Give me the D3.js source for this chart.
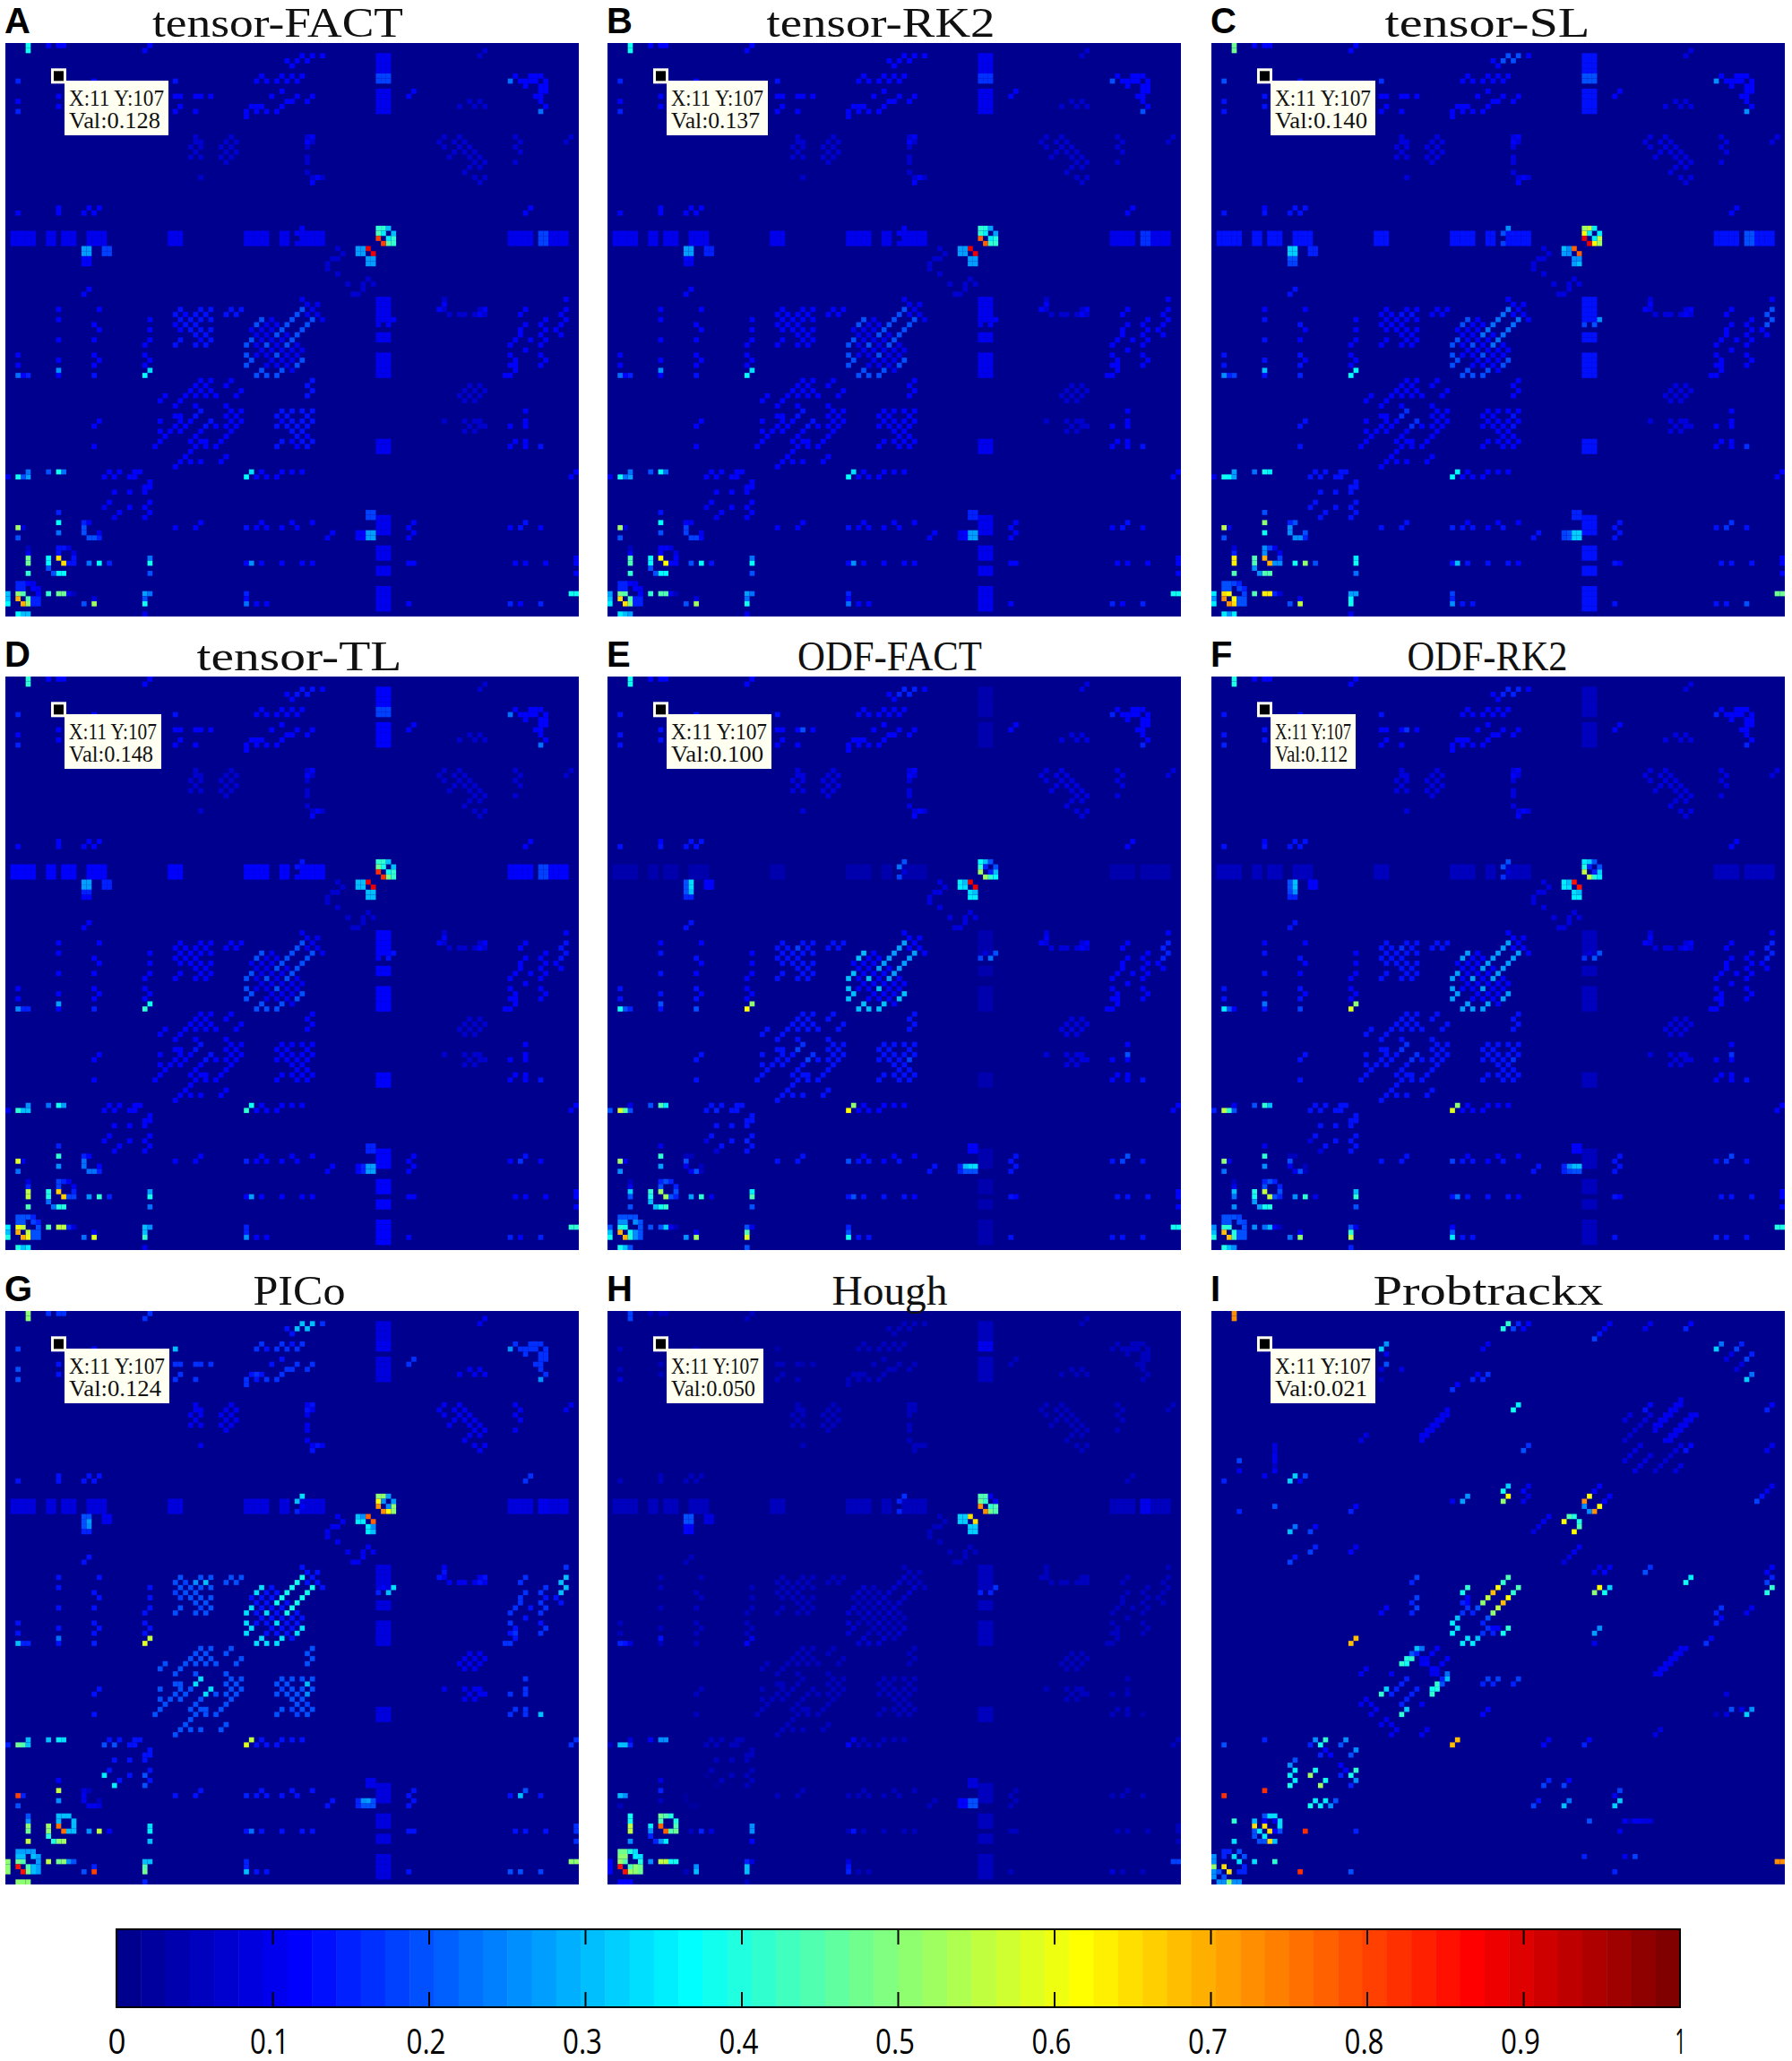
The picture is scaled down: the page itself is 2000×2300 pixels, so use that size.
<!DOCTYPE html>
<html><head><meta charset="utf-8">
<style>html,body{margin:0;padding:0;background:#fff}svg{display:block}</style>
<script src="https://d3js.org/d3.v7.min.js"></script></head><body>
<svg id="chart" width="2000" height="2300"></svg>
<script>
// Matrix is 113 x 113; cells are [column, row-from-top], 0-based, and mirrored about the anti-diagonal.
const letters=["A","B","C","D","E","F","G","H","I"];
const titles=["tensor-FACT","tensor-RK2","tensor-SL","tensor-TL","ODF-FACT","ODF-RK2","PICo","Hough","Probtrackx"];
const cursorVals=["0.128","0.137","0.140","0.148","0.100","0.112","0.124","0.050","0.021"];
const tickVals=[0,.1,.2,.3,.4,.5,.6,.7,.8,.9,1];

// Bright cells: [col,row,[A,B,C,D,E,F,G,H]]
const hotCells=[
[4,0,[.38,.38,.48,.42,.38,.4,.5,.18]],[4,1,[.38,.38,.48,.42,.38,.4,.5,.18]],
[2,95,[.52,.52,.55,.58,.52,.5,.78,.25]],[3,95,[.08,.08,.1,.1,.1,.1,.15,.25]],
[10,94,[.37,.37,.5,.42,.38,.38,.55,.15]],[10,96,[.22,.2,.35,.25,.28,.25,.25,.05]],[2,97,[.2,.2,.2,.22,.22,.22,.2,.05]],
[15,94,[.15,.12,.15,.15,.05,.05,.08,0]],[15,95,[.15,.15,.25,.18,.2,.18,.1,.03]],[15,96,[.15,.15,.25,.18,.1,.1,.1,.03]],
[16,97,[.2,.18,.25,.22,.05,.05,.05,0]],[17,97,[.2,.18,.25,.22,.2,.2,.05,0]],[18,96,[.1,.1,.2,.12,.05,.05,.05,0]],
[4,101,[.48,.45,.63,.55,.2,.22,.5,.38]],[4,102,[.48,.45,.63,.55,.12,.15,.45,.55]],[4,100,[.1,.1,.15,.15,.05,.05,.25,.38]],[4,99,[.05,.05,.08,.08,.03,.03,.2,.38]],[4,104,[.4,.38,.45,.42,.12,.15,.52,.25]],
[8,101,[.35,.36,.45,.4,.4,.4,.52,.25]],[8,102,[.35,.36,.45,.4,.38,.38,.5,.25]],[8,103,[.2,.2,.2,.22,.25,.25,.38,.06]],
[10,101,[.65,.62,.68,.66,.52,.55,.75,.78]],[11,102,[.62,.62,.7,.66,.52,.55,.75,.75]],
[9,104,[.2,.2,.25,.22,.3,.28,.4,.15]],[10,104,[.36,.37,.42,.38,.38,.38,.5,.25]],[11,104,[.36,.37,.42,.38,.42,.4,.5,.35]],
[10,99,[.12,.12,.2,.15,.15,.15,.3,.48]],[11,99,[.1,.1,.15,.12,.15,.15,.3,.45]],[12,99,[.05,.05,.1,.08,.12,.12,.3,.3]],[10,100,[.1,.1,.2,.15,.2,.2,.3,.45]],
[13,100,[.08,.08,.1,.1,.15,.15,.3,.4]],[13,101,[.14,.12,.18,.15,.2,.2,.3,.4]],[12,102,[.14,.12,.25,.18,.15,.15,.3,.4]],[13,102,[.14,.12,.25,.18,.15,.15,.3,.4]],
[16,102,[.22,.2,.38,.25,.28,.25,.25,.05]],[18,102,[.37,.37,.48,.42,.42,.42,.55,.12]],[20,102,[.15,.13,.2,.15,.1,.1,.12,.08]],
[28,101,[.22,.22,.33,.28,.3,.3,.33,.25]],[28,102,[.36,.36,.38,.38,.45,.42,.33,.25]],[28,104,[.2,.2,.22,.22,.2,.2,.3,.12]],
[0,108,[.27,.28,.35,.35,.1,.2,.4,.05]],[0,109,[.3,.28,.2,.3,.15,.2,.4,.05]],[0,110,[.35,.35,.35,.4,.38,.4,.4,.08]],
[2,108,[.5,.48,.65,.6,.35,.4,.48,.52]],[3,108,[.45,.45,.62,.55,.38,.4,.4,.45]],[2,109,[.7,.65,.72,.7,.7,.68,.85,.85]],[3,110,[.68,.65,.72,.7,.7,.68,.85,.85]],
[4,109,[.4,.4,.5,.48,.35,.38,.45,.45]],[4,110,[.5,.45,.65,.55,.4,.42,.45,.5]],
[2,112,[.36,.35,.3,.38,.33,.35,.5,.12]],[3,112,[.3,.3,.25,.3,.3,.3,.5,.12]],[4,112,[.3,.28,.3,.32,.2,.25,.5,.12]],
[5,109,[.15,.15,.2,.2,.2,.2,.25,.48]],[5,110,[.15,.15,.2,.2,.2,.2,.25,.48]],[6,109,[.15,.15,.2,.2,.2,.2,.25,.48]],[6,110,[.15,.15,.2,.2,.2,.2,.25,.48]],
[2,106,[.12,.12,.18,.2,.2,.2,.28,.45]],[3,106,[.12,.12,.18,.2,.2,.2,.28,.45]],[4,106,[.12,.12,.18,.2,.2,.2,.28,.4]],[5,106,[.1,.1,.12,.15,.18,.18,.28,.3]],
[2,107,[.12,.12,.18,.18,.25,.2,.3,.5]],[3,107,[.12,.12,.18,.18,.25,.2,.3,.5]],[5,107,[.12,.12,.18,.18,.25,.2,.3,.35]],[6,107,[.1,.1,.15,.15,.2,.18,.28,.33]],
[8,108,[.42,.42,.45,.45,.2,.25,.55,.2]],[10,108,[.45,.42,.6,.5,.2,.22,.47,.45]],[11,108,[.45,.42,.6,.5,.32,.3,.47,.55]],[12,108,[.1,.08,.1,.1,.1,.1,.2,.38]],[13,108,[.05,.05,.06,.06,.06,.06,.1,.38]],
[17,110,[.52,.5,.55,.55,.5,.48,.8,.3]],[15,110,[.15,.15,.2,.18,.25,.2,.2,.05]],
[27,108,[.27,.27,.27,.3,.2,.2,.3,.05]],[28,108,[.22,.22,.27,.25,.1,.1,.28,.05]],[27,109,[.15,.18,.25,.2,.42,.4,.45,.08]],[27,110,[.38,.38,.38,.42,.55,.52,.48,.28]],
[47,110,[.2,.2,.25,.22,.38,.35,.3,.15]],[47,108,[.15,.15,.15,.15,.15,.12,.15,.05]],
[2,85,[.35,.35,.37,.4,.58,.55,.47,.3]],[3,85,[.2,.22,.37,.3,.45,.42,.3,.3]],[4,85,[.2,.2,.28,.25,.2,.2,.25,.15]],[4,84,[.22,.22,.28,.25,.08,.1,.3,.08]],[0,85,[.1,.1,.1,.1,.2,.15,.15,.05]],
[8,84,[.15,.15,.2,.18,.15,.15,.3,.1]],[10,84,[.38,.37,.38,.38,.42,.38,.35,.22]],[11,84,[.2,.2,.35,.25,.35,.3,.33,.22]],
[2,65,[.22,.22,.25,.25,.38,.35,.28,.13]],[3,65,[.12,.12,.15,.15,.2,.2,.15,.13]],[4,65,[.12,.12,.18,.15,.08,.1,.15,.08]],[10,64,[.25,.25,.3,.28,.2,.22,.22,.13]],[17,65,[.13,.13,.15,.15,.2,.18,.15,.05]],
[27,65,[.36,.36,.37,.42,.62,.58,.58,.12]],[28,64,[.33,.33,.37,.38,.5,.5,.55,.1]],
[73,36,[.3,.3,.4,.32,.36,.35,.38,.42]],[74,36,[.38,.38,.55,.4,.3,.32,.5,.38]],[75,36,[.3,.28,.3,.3,.1,.12,.12,.1]],
[73,37,[.45,.42,.62,.48,.42,.4,.62,.42]],[74,37,[.35,.35,.35,.38,.15,.15,.2,.38]],[76,37,[.25,.25,.35,.28,.2,.2,.28,.1]],
[73,38,[.8,.78,.88,.82,.52,.55,.72,.72]],[75,38,[.35,.33,.3,.35,.15,.15,.25,.42]],[76,38,[.42,.4,.52,.42,.3,.3,.38,.45]],
[74,39,[.78,.78,.88,.82,.52,.55,.72,.72]],[75,39,[.42,.42,.62,.45,.33,.3,.62,.48]],[76,39,[.42,.42,.52,.42,.33,.3,.5,.45]],
[71,40,[.88,.88,.78,.88,.88,.85,.78,.65]],[72,41,[.88,.88,.75,.88,.88,.85,.78,.65]],
[69,40,[.28,.28,.3,.3,.35,.35,.3,.32]],[70,40,[.25,.22,.2,.25,.3,.3,.25,.32]],[69,41,[.28,.28,.28,.3,.35,.35,.35,.32]],[70,41,[.22,.2,.15,.2,.3,.3,.1,.32]],
[71,42,[.28,.28,.25,.3,.33,.33,.35,.25]],[72,42,[.28,.28,.25,.3,.25,.25,.25,.25]],[71,43,[.28,.28,.28,.3,.33,.33,.35,.28]],[72,43,[.28,.28,.25,.3,.25,.25,.12,.28]],
[15,40,[.28,.28,.32,.28,.2,.2,.2,.2]],[16,40,[.28,.28,.32,.28,.33,.3,.2,.2]],[15,41,[.28,.28,.32,.28,.2,.2,.2,.2]],[16,41,[.28,.28,.32,.28,.33,.3,.28,.2]],
[15,42,[.12,.12,.2,.15,.2,.18,.2,.12]],[16,42,[.12,.12,.2,.15,.3,.25,.25,.12]],[15,43,[.12,.1,.18,.12,.15,.15,.15,.12]],[16,43,[.12,.1,.18,.12,.15,.15,.15,.12]],
[19,40,[.18,.15,.15,.15,.12,.12,.1,.08]],[20,40,[.18,.15,.15,.15,.12,.12,.1,.08]],[19,41,[.18,.15,.15,.15,.12,.12,.1,.08]],[20,41,[.18,.15,.15,.15,.12,.12,.1,.08]],
[99,7,[.22,.2,.25,.22,.12,.12,.25,.05]],[105,13,[.2,.2,.2,.2,.15,.15,.25,.05]],[2,7,[.15,.15,.2,.15,.1,.12,.18,.06]],[2,11,[.12,.12,.12,.12,.1,.12,.2,.06]],[2,13,[.15,.15,.13,.15,.12,.15,.2,.08]],
[33,7,[.1,.1,.15,.12,.1,.1,.2,.03]],[38,10,[.12,.12,.12,.12,.2,.16,.16,.04]],
[105,79,[.14,.14,.16,.14,.14,.14,.3,.04]],[101,95,[.14,.14,.16,.16,.18,.16,.3,.05]],[102,94,[.14,.14,.16,.14,.2,.18,.2,.05]],
[109,55,[.12,.12,.2,.14,.15,.15,.3,.05]],[110,54,[.12,.12,.2,.14,.15,.15,.3,.05]],[109,53,[.12,.12,.2,.14,.15,.15,.3,.05]],[110,52,[.12,.12,.2,.14,.15,.15,.3,.05]],
[75,55,[.12,.12,.2,.14,.22,.2,.3,.15]],[76,54,[.12,.12,.25,.14,.2,.2,.33,.16]],[73,55,[.1,.1,.18,.12,.18,.16,.15,.15]],[74,54,[.08,.08,.12,.1,.08,.08,.12,.06]],
[19,91,[.08,.08,.12,.1,.08,.08,.35,.03]],[21,93,[.1,.1,.13,.12,.08,.08,.28,.03]],[27,91,[.1,.1,.13,.12,.15,.14,.2,.03]],[27,93,[.1,.1,.13,.12,.12,.12,.2,.03]],
[37,73,[.13,.13,.16,.14,.18,.16,.33,.05]],[38,72,[.13,.13,.16,.14,.16,.16,.33,.05]],[40,74,[.12,.12,.15,.14,.16,.15,.28,.05]],[39,75,[.12,.12,.15,.14,.15,.15,.28,.05]],[59,73,[.12,.12,.13,.12,.12,.12,.3,.05]],[59,75,[.12,.12,.13,.12,.18,.16,.25,.06]]
];

// Recurring structures: positions, then one level per panel A-H.
const stripeCells=[[53,57],[54,56],[55,55],[56,54],[57,53],[58,52]];
const stripeLevels=[.2,.2,.22,.2,.28,.28,.38,.07];
const sideCells=[[47,59],[48,58],[47,61],[48,62],[47,63],[49,55],[50,54],[51,59],[53,61]];
const sideLevels=[.2,.2,.2,.2,.3,.28,.33,.07];
const checkCells=[[48,56],[49,57],[50,56],[51,57],[50,58],[49,59],[50,60],[49,61],[51,61],[52,60],[52,58],[53,59],[52,62],[51,63],[53,63],[55,57],[54,58],[55,59],[56,60],[56,58],[54,60],[55,61],[57,61],[58,60],[57,59],[56,62],[54,62],[59,53],[60,52],[59,51],[58,50],[61,51]];
const checkLevels=[.1,.1,.12,.1,.12,.12,.14,.05];
const leftCells=[[37,53],[38,52],[40,52],[40,54],[39,57],[40,56],[40,58],[39,59],[37,59],[33,59],[34,58],[33,53],[34,52],[36,54],[35,55],[37,55],[38,54],[39,53],[38,56],[37,57],[36,56],[34,54],[43,53],[44,52],[45,53],[46,52]];
const leftLevels=[.13,.12,.12,.12,.14,.14,.2,.05];
const lowerCells=[[37,67],[38,66],[37,69],[38,68],[40,66],[43,67],[44,66],[45,69],[46,68],[41,69],[35,69],[39,67],[36,68],[33,71],[31,69],[30,70],[34,73],[33,73],[34,74],[33,75],[35,75],[38,72],[37,73],[40,74],[39,75],[43,75],[44,74],[45,75],[46,72],[44,72],[43,71],[46,74],[45,73],[43,73],[37,77],[38,78],[37,79],[39,79],[38,76],[36,78],[35,81],[33,83],[36,82],[38,82],[43,77],[42,78],[44,76],[41,75],[32,76],[30,78],[31,77]];
const lowerLevels=[.12,.12,.12,.12,.13,.13,.2,.05];
const regionCells=[[53,73],[54,72],[55,73],[56,72],[58,72],[60,72],[53,75],[53,79],[54,78],[57,79],[59,79],[59,77],[59,67],[60,66],[59,69],[57,75],[55,75],[60,74],[58,74],[54,74],[56,78],[60,78]];
const regionLevels=[.12,.12,.12,.12,.13,.13,.18,.05];
const topCells=[[57,3],[58,2],[59,3],[60,2],[62,2],[47,13],[49,12],[51,13],[53,13],[54,12],[55,11],[56,11],[57,10],[59,11],[60,10],[49,7],[50,6],[53,7],[54,6],[55,7],[57,7],[58,6],[33,13],[34,12],[34,10],[33,10],[37,13],[37,10],[40,10],[100,6],[102,7],[103,6],[104,7],[105,6],[106,7],[106,8],[105,9],[104,10],[105,11],[106,12],[79,10],[80,9],[47,14],[27,1],[28,0],[10,0],[11,0],[8,0]];
const topLevels=[.12,.12,.12,.12,.12,.12,.17,.05];
const faintCells=[[37,18],[38,19],[44,18],[43,19],[45,19],[44,20],[43,21],[45,21],[44,22],[43,23],[37,19],[36,20],[38,20],[37,21],[36,22],[38,22],[42,20],[42,22],[59,18],[60,18],[59,20],[60,19],[59,22],[59,23],[88,19],[89,18],[90,19],[91,20],[92,21],[93,22],[92,23],[91,24],[90,25],[91,22],[90,21],[89,20],[88,21],[100,18],[101,19],[100,20],[101,21],[100,23],[110,19],[111,18],[62,26],[60,27],[61,26],[38,26],[94,26],[93,27],[92,26],[87,53],[86,52],[65,40],[66,41],[64,42],[63,43],[67,47],[68,49],[70,47],[71,46]];
const faintLevels=[.07,.07,.08,.07,.08,.08,.1,.05];
const patchCells=[[15,33],[16,32],[17,33],[18,32],[10,32],[2,33],[99,59],[100,58],[99,61],[100,62],[99,63],[99,65],[100,64],[105,59],[106,58],[105,61],[102,60],[103,58],[93,53],[94,52],[85,52],[86,51],[108,56],[109,57],[27,59],[28,58],[27,61],[28,62],[27,63],[28,56],[28,54],[17,63],[18,62],[17,61],[17,55],[18,52],[18,56],[17,58],[10,58],[10,52],[101,53],[102,52],[105,55],[106,56]];
const patchLevels=[.12,.12,.12,.12,.12,.12,.14,.05];
const rowCells=[[79,95],[80,94],[80,96],[79,97],[99,95],[105,95],[33,95],[37,95],[38,94],[47,95],[49,95],[51,95],[57,95],[47,102],[50,102],[54,102],[58,102],[79,102],[100,102],[102,102],[106,102],[49,110],[51,110],[99,110],[101,110],[105,110],[79,110],[19,85],[20,84],[21,85],[22,84],[25,85],[26,84],[28,87],[27,88],[21,88],[24,88],[22,92],[20,90],[28,92],[63,97],[64,96]];
const rowLevels=[.12,.12,.13,.12,.14,.14,.14,.06];
const bandCols=[73,74,75];
const bandBrightRows=[6,7];
const bandBrightLevels=[.18,.17,.2,.18,.04,.05,.1,.1];
const bandRows=[2,3,4,5,9,10,11,12,13,50,51,52,53,54,57,58,61,62,63,64,65,78,79,80,93,94,95,96,99,100,101,103,104,107,108,109,110,111];
const bandLevels=[.1,.1,.13,.12,.04,.05,.08,.05];

// Panel I is read on its own.
const probtrackxCells=[
[4,0,.72],[4,1,.72],[57,3,.36],[58,2,.38],[59,3,.18],[60,2,.15],[61,3,.12],[62,2,.12],[75,5,.18],[76,4,.14],[77,3,.1],[78,2,.1],[85,3,.1],[86,2,.1],[93,3,.15],[94,2,.12],
[99,7,.32],[100,6,.22],[103,7,.15],[104,6,.15],[105,9,.18],[106,8,.15],[101,9,.08],[102,8,.08],[103,11,.08],[104,10,.08],[105,13,.32],[106,12,.2],
[33,7,.32],[34,6,.25],[34,8,.1],[34,10,.2],[33,11,.08],[37,11,.08],[33,13,.06],[53,7,.1],[54,6,.1],[51,13,.15],[52,12,.12],[53,13,.15],[54,12,.17],[47,15,.17],[48,14,.12],
[59,19,.32],[60,18,.34],[85,19,.14],[86,18,.12],[41,25,.1],[42,24,.1],[43,23,.1],[44,22,.1],[45,21,.1],[46,20,.1],[29,25,.08],[30,24,.08],[61,27,.2],[62,26,.17],
[5,29,.18],[12,26,.08],[12,28,.1],[12,30,.06],[5,31,.1],[15,33,.32],[16,32,.32],[17,33,.1],[18,32,.18],[2,33,.15],[10,32,.1],[12,38,.2],[5,39,.15],[27,39,.15],[28,38,.12],
[15,43,.3],[16,42,.22],[19,43,.18],[20,42,.12],[19,47,.18],[20,46,.15],[15,49,.18],[16,48,.14],[27,47,.12],[28,46,.1],
[49,37,.2],[50,36,.18],[47,37,.1],[57,37,.45],[58,36,.62],[57,35,.33],[58,34,.32],[61,35,.12],[62,34,.1],[61,37,.1],[62,36,.08],
[74,36,.62],[73,37,.72],[73,38,.25],[76,38,.55],[74,39,.2],[75,39,.72],[77,37,.12],[78,36,.12],[76,34,.1],[75,35,.1],[70,40,.42],[71,40,.38],[69,41,.62],[72,41,.4],[72,42,.45],[71,43,.62],
[90,25,.1],[91,24,.1],[92,23,.1],[93,22,.1],[94,21,.1],[95,20,.1],[87,23,.1],[88,22,.1],[89,21,.1],[90,20,.1],[91,19,.1],[92,18,.1],[81,25,.07],[82,24,.07],[83,23,.07],[84,22,.07],[85,21,.08],[86,20,.08],[81,29,.08],[82,28,.08],[83,31,.08],[84,30,.08],[85,29,.08],[86,28,.08],[91,31,.08],[92,30,.08],[93,27,.1],[94,26,.12],[63,43,.08],[64,42,.08],[65,41,.1],[66,40,.1],
[53,57,.5],[54,56,.55],[55,55,.68],[56,54,.62],[57,53,.42],[58,52,.45],[49,55,.38],[50,54,.35],[50,57,.12],[47,61,.35],[48,60,.3],[47,63,.33],[48,62,.32],[49,65,.35],[50,64,.33],[51,65,.33],[52,64,.25],
[57,63,.38],[58,62,.42],[53,63,.17],[54,62,.15],[55,63,.15],[56,62,.12],[50,58,.17],[49,59,.15],[51,59,.15],[52,58,.15],[53,61,.15],[54,60,.2],
[27,65,.68],[28,64,.68],[75,55,.5],[76,54,.62],[77,55,.38],[78,54,.27],[75,63,.28],[76,62,.25],[109,55,.4],[110,54,.42],[93,53,.38],[94,52,.35],[109,53,.18],[110,52,.15],
[99,59,.15],[100,58,.15],[99,61,.15],[100,60,.12],[105,59,.1],[106,58,.1],[97,65,.12],[98,64,.1],[88,71,.1],[89,70,.1],[90,69,.1],[91,68,.1],[92,67,.1],[93,66,.1],
[39,57,.15],[40,56,.17],[39,59,.15],[40,58,.17],[33,59,.1],[34,58,.1],[41,66,.22],[40,67,.15],[39,68,.42],[38,69,.38],[42,69,.12],[43,67,.12],[44,66,.12],[41,68,.1],
[46,68,.1],[45,69,.1],[44,70,.1],[43,71,.1],[46,72,.3],[45,73,.2],[44,74,.4],[43,75,.42],[33,75,.42],[34,74,.3],[36,74,.15],[35,75,.15],[38,72,.15],[37,73,.15],[40,74,.12],[39,75,.12],[38,76,.12],[37,77,.12],
[37,79,.38],[38,78,.32],[29,77,.1],[30,76,.1],[31,77,.1],[32,78,.1],[31,79,.1],[35,71,.1],[29,71,.1],[30,70,.1],
[54,72,.18],[56,72,.18],[60,72,.18],[53,73,.15],[55,73,.15],[59,73,.15],[53,79,.12],[54,78,.12],
[20,84,.2],[22,84,.33],[19,85,.12],[21,85,.33],[25,85,.2],[26,84,.25],[28,86,.2],[27,87,.18],[21,87,.15],[23,87,.12],[22,86,.12],
[16,88,.2],[15,89,.2],[15,91,.35],[16,90,.35],[15,93,.38],[16,92,.35],[19,91,.5],[20,90,.36],[21,93,.52],[22,92,.38],[27,91,.38],[28,90,.42],[28,92,.25],[27,93,.15],[25,91,.12],[26,90,.12],
[19,97,.38],[20,96,.35],[21,97,.35],[22,96,.35],[23,97,.25],[24,96,.12],[10,94,.82],[2,95,.82],[18,102,.82],[17,110,.82],
[4,100,.38],[4,104,.3],[8,101,.62],[10,101,.6],[11,102,.65],[11,104,.65],[12,104,.3],[10,103,.35],[8,102,.2],[9,102,.2],[9,104,.2],[10,104,.2],[10,99,.2],[11,99,.33],[12,99,.33],[13,100,.3],[13,101,.3],[13,102,.12],[12,102,.12],[10,100,.12],[12,100,.1],[8,103,.15],[8,100,.12],
[8,108,.33],[12,108,.42],[0,107,.25],[0,108,.25],[0,109,.5],[0,110,.2],[1,110,.2],[2,109,.62],[3,110,.65],[2,106,.15],[3,106,.15],[2,107,.12],[4,107,.3],[5,106,.2],[5,108,.33],[6,107,.2],[6,109,.15],[5,110,.15],[6,110,.15],[2,111,.15],[1,112,.25],[2,112,.25],[3,112,.5],[4,112,.22],[5,112,.22],
[27,110,.2],[28,102,.15],[74,100,.2],[73,107,.12],[81,100,.1],[83,100,.1],[85,100,.08]
];

// Layout
const panelX=[6,678,1352], panelY=[48,755,1463], panelSize=640, N=113;
const titleX=[310,983,1660,334,993,1660,334,993,1661];
const titleW=[280,255,229,229,206,179,103,129,257];
const boxW=[116,113,117,108,117,95,117,108,117];
const cbar={x0:130,x1:1875,y0:2153,y1:2240};

// Matlab jet(64)
const clamp=v=>Math.max(0,Math.min(1,v));
const jet=d3.range(64).map(i=>{const t=(i+1)/64;return d3.rgb(255*clamp(1.5-Math.abs(4*t-3)),255*clamp(1.5-Math.abs(4*t-2)),255*clamp(1.5-Math.abs(4*t-1))).formatHex();});
const color=d3.scaleQuantize().domain([0,1]).range(jet);

function panelCells(p){
  const m=new Map();
  const put=(c,r,v)=>{ if(v<.03) return;
    [[c,r],[112-r,112-c]].forEach(([a,b])=>{ if(a<0||b<0||a>=N||b>=N) return; const k=a+"_"+b; m.set(k,{c:a,r:b,v:Math.max(v,m.has(k)?m.get(k).v:0)});}); };
  if(p===8){ probtrackxCells.forEach(d=>put(d[0],d[1],d[2])); }
  else{
    [[bandRows,bandLevels],[bandBrightRows,bandBrightLevels]].forEach(([rows,l])=>d3.cross(bandCols,rows).forEach(d=>put(d[0],d[1],l[p])));
    [[faintCells,faintLevels],[checkCells,checkLevels],[patchCells,patchLevels],[rowCells,rowLevels],[topCells,topLevels],[leftCells,leftLevels],[lowerCells,lowerLevels],[regionCells,regionLevels],[sideCells,sideLevels],[stripeCells,stripeLevels]]
      .forEach(([cs,l])=>cs.forEach(d=>put(d[0],d[1],l[p])));
    hotCells.forEach(d=>{const k=d[0]+"_"+d[1]; put(d[0],d[1],d[2][p]);});
  }
  return [...m.values()];
}

const svg=d3.select("#chart");
const serif='"Liberation Serif","DejaVu Serif",serif';
titles.forEach((t,p)=>{
  const px=panelX[p%3], py=panelY[Math.floor(p/3)];
  const x=d3.scaleBand().domain(d3.range(N)).range([px,px+panelSize]);
  const y=d3.scaleBand().domain(d3.range(N)).range([py,py+panelSize]);
  const g=svg.append("g");
  g.append("rect").attr("x",px).attr("y",py).attr("width",panelSize).attr("height",panelSize).attr("fill",color(0));
  g.selectAll("rect.c").data(panelCells(p)).join("rect").attr("class","c")
    .attr("x",d=>x(d.c)).attr("y",d=>y(d.r)).attr("width",x.bandwidth()).attr("height",y.bandwidth())
    .attr("fill",d=>color(d.v));
  // data cursor at X:11 Y:107
  const cx=x(10)+x.bandwidth()/2, cy=y(N-107)+y.bandwidth()/2;
  g.append("rect").attr("x",cx-8.5).attr("y",cy-8.5).attr("width",17).attr("height",17).attr("fill","#fffff2");
  g.append("rect").attr("x",cx-5.5).attr("y",cy-5.5).attr("width",11).attr("height",11).attr("fill","#000");
  g.append("rect").attr("x",px+66).attr("y",py+42).attr("width",boxW[p]).attr("height",61).attr("fill","#fffff2");
  const lines=["X:11 Y:107","Val:"+cursorVals[p]];
  lines.forEach((s,i)=>g.append("text").attr("x",px+71).attr("y",py+70+i*25)
    .attr("font-family",serif).attr("font-size",26).attr("fill","#111")
    .attr("textLength",boxW[p]-(i?14:10)).attr("lengthAdjust","spacingAndGlyphs").text(s));
  // title and letter
  const row=Math.floor(p/3);
  svg.append("text").attr("x",titleX[p]-titleW[p]/2).attr("y",py-7).attr("font-family",serif).attr("font-size",46).attr("fill","#111")
    .attr("textLength",titleW[p]).attr("lengthAdjust","spacingAndGlyphs").text(t);
  svg.append("text").attr("x",px-1).attr("y",py-11).attr("font-family",'"Liberation Sans",sans-serif').attr("font-weight",700).attr("font-size",40).attr("fill","#000").text(letters[p]);
});

// Colour bar
const cb=d3.scaleLinear().domain([0,1]).range([cbar.x0,cbar.x1]);
const cg=svg.append("g");
cg.selectAll("rect").data(d3.range(64)).join("rect")
  .attr("x",i=>cb(i/64)).attr("y",cbar.y0).attr("width",(cbar.x1-cbar.x0)/64+.5).attr("height",cbar.y1-cbar.y0)
  .attr("fill",i=>jet[i]);
cg.append("rect").attr("x",cbar.x0).attr("y",cbar.y0).attr("width",cbar.x1-cbar.x0).attr("height",cbar.y1-cbar.y0).attr("fill","none").attr("stroke","#000").attr("stroke-width",2);
const ticks=tickVals.slice(1,-1);
[[cbar.y0,cbar.y0+17],[cbar.y1-17,cbar.y1]].forEach(([a,b])=>
  cg.selectAll(null).data(ticks).join("line").attr("x1",d=>cb(d)).attr("x2",d=>cb(d)).attr("y1",a).attr("y2",b).attr("stroke","#000").attr("stroke-width",2));
const axis=d3.axisBottom(cb).tickValues(tickVals).tickSize(0).tickFormat(d=>String(d));
const ag=svg.append("g").attr("transform",`translate(0,${cbar.y1})`).call(axis);
ag.select(".domain").remove();
ag.selectAll("text").attr("y",52).attr("dy",0).attr("fill","#000")
  .attr("font-family",'"Open Sans","Noto Sans",sans-serif').attr("font-size",39).attr("text-anchor","middle")
  .attr("dx",d=>(d===0||d===1)?0:-4)
  .attr("textLength",d=>(d===0)?20:(d===1?12:44)).attr("lengthAdjust","spacingAndGlyphs");
</script></body></html>
